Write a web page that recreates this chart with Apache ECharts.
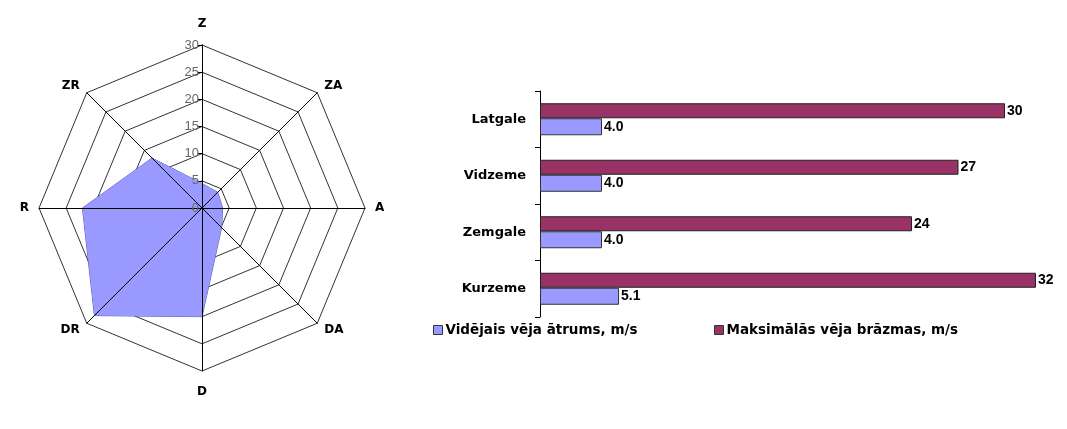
<!DOCTYPE html>
<html>
<head>
<meta charset="utf-8">
<script src="https://cdn.jsdelivr.net/npm/echarts@6/dist/echarts.min.js"></script>
<style>
  html, body { margin: 0; padding: 0; background: #fff; }
  #main { width: 1067px; height: 429px; }
</style>
</head>
<body>
<div id="main"></div>
<script>
// radar: directions in drawing order (ECharts goes counter-clockwise from top)
const directions = ['Z', 'ZR', 'R', 'DR', 'D', 'DA', 'A', 'ZA'];
const windRose = [4.5, 13, 22, 28, 20, 5.1, 3.8, 4.1];

// bars
const regions = ['Kurzeme', 'Zemgale', 'Vidzeme', 'Latgale'];
const avgSpeed = [5.1, 4.0, 4.0, 4.0];
const maxGust = [32, 24, 27, 30];
const avgName = 'Vidējais vēja ātrums, m/s';
const gustName = 'Maksimālās vēja brāzmas, m/s';

const font = 'Liberation Sans, Arial, sans-serif';
const wide = 'DejaVu Sans, sans-serif';

const chart = echarts.init(document.getElementById('main'));

const radarBase = {
  center: [202, 208],
  radius: 163,
  shape: 'polygon',
  splitNumber: 6,
  splitArea: { show: false }
};

const option = {
  backgroundColor: '#fff',
  animation: false,
  textStyle: { fontFamily: font },
  radar: [
    Object.assign({}, radarBase, {
      nameGap: 10,
      axisName: { color: '#000', fontSize: 12, fontWeight: 'bold', fontFamily: wide, padding: [5, 0, 5, 0] },
      axisLine: { show: false },
      splitLine: { lineStyle: { color: '#333', width: 1 } },
      axisTick: { show: false },
      axisLabel: { show: false },
      indicator: directions.map(d => ({ name: d, min: 0, max: 30 }))
    }),
    // spokes and scale drawn over the filled area
    Object.assign({}, radarBase, {
      z: 3,
      axisName: { show: false },
      axisLine: { lineStyle: { color: '#000', width: 1 } },
      splitLine: { show: false },
      axisTick: { show: false },
      axisLabel: { show: false },
      indicator: directions.map((d, i) => {
        const ind = { name: d, min: 0, max: 30 };
        if (i === 0) {
          ind.axisLabel = { show: true, color: '#666', fontSize: 13, margin: 3, fontFamily: font };
          ind.axisTick = { show: true, length: 4, lineStyle: { color: '#000' } };
        }
        return ind;
      })
    })
  ],
  legend: [
    {
      left: 428, top: 318,
      icon: 'rect', itemWidth: 9, itemHeight: 9, itemGap: 6,
      data: [avgName],
      textStyle: { color: '#000', fontSize: 13.5, fontWeight: 'bold', fontFamily: wide, padding: [0, 0, 0, -2] },
      itemStyle: { borderColor: '#333', borderWidth: 1 }
    },
    {
      left: 709, top: 318,
      icon: 'rect', itemWidth: 9, itemHeight: 9,
      data: [gustName],
      textStyle: { color: '#000', fontSize: 13.5, fontWeight: 'bold', fontFamily: wide, padding: [0, 0, 0, -2] },
      itemStyle: { borderColor: '#333', borderWidth: 1 }
    }
  ],
  grid: { left: 540, top: 91, width: 496, height: 226 },
  xAxis: {
    type: 'value', min: 0, max: 32, show: false
  },
  yAxis: {
    type: 'category',
    data: regions,
    axisLine: { lineStyle: { color: '#000' } },
    axisTick: { show: true, length: 5, lineStyle: { color: '#000' } },
    axisLabel: { color: '#000', fontSize: 13, fontWeight: 'bold', margin: 14, fontFamily: wide }
  },
  series: [
    {
      type: 'radar',
      radarIndex: 0,
      symbol: 'none',
      lineStyle: { color: '#5555aa', width: 1 },
      areaStyle: { color: '#9999ff', opacity: 1 },
      data: [{ value: windRose, name: 'vējš' }]
    },
    {
      name: gustName,
      type: 'bar',
      data: maxGust,
      barWidth: 15,
      barGap: '0%',
      itemStyle: { color: '#993366', borderColor: '#222', borderWidth: 1 },
      label: { show: true, position: 'right', distance: 2, color: '#000', fontSize: 14, fontWeight: 'bold', fontFamily: font }
    },
    {
      name: avgName,
      type: 'bar',
      data: avgSpeed,
      barWidth: 17,
      barGap: '0%',
      itemStyle: { color: '#9999ff', borderColor: '#333', borderWidth: 1 },
      label: {
        show: true, position: 'right', distance: 2, color: '#000', fontSize: 14, fontWeight: 'bold', fontFamily: font,
        formatter: p => p.value.toFixed(1)
      }
    }
  ]
};

chart.setOption(option);
</script>
</body>
</html>
